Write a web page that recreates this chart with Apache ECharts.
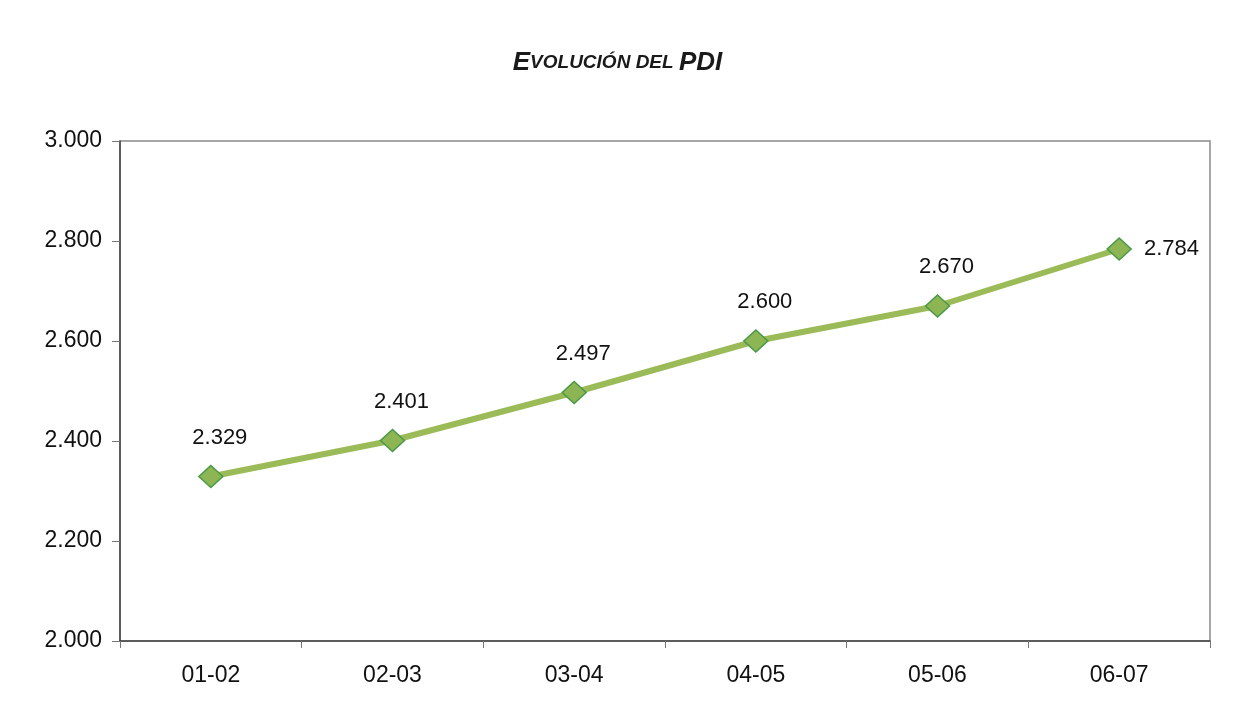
<!DOCTYPE html>
<html>
<head>
<meta charset="utf-8">
<script src="https://cdn.jsdelivr.net/npm/echarts@6/dist/echarts.min.js"></script>
<style>
  html, body { margin: 0; padding: 0; background: #fff; }
  #main { width: 1235px; height: 709px; }
</style>
</head>
<body>
<div id="main"></div>
<script>
const seasons = ['01-02', '02-03', '03-04', '04-05', '05-06', '06-07']
const pdi = [2329, 2401, 2497, 2600, 2670, 2784]
const yTicks = [2000, 2200, 2400, 2600, 2800, 3000]

// spanish style thousands separator
const fmt = v => (v / 1000).toFixed(3)

const chart = echarts.init(document.getElementById('main'))

const points = pdi.map((v, i) => {
  const last = i === pdi.length - 1
  return {
    value: v,
    label: last
      ? { position: 'right', distance: 12 }
      : { position: 'top', distance: 16, offset: [9, 0] }
  }
})

chart.setOption({
  animation: false,
  textStyle: { fontFamily: 'Liberation Sans, Arial, sans-serif' },
  title: {
    text: '{big|E}{small|VOLUCIÓN DEL }{big|PDI}',
    left: 'center',
    top: 45,
    textStyle: {
      rich: {
        big: { fontSize: 26, fontWeight: 'bold', fontStyle: 'italic', color: '#1a1a1a', fontFamily: 'Liberation Sans' },
        small: { fontSize: 19, fontWeight: 'bold', fontStyle: 'italic', color: '#1a1a1a', fontFamily: 'Liberation Sans' }
      }
    }
  },
  grid: {
    left: 120,
    right: 25,
    top: 141,
    bottom: 68,
    show: true,
    borderColor: '#8a8a8a',
    borderWidth: 1.5
  },
  xAxis: {
    type: 'category',
    data: seasons,
    boundaryGap: true,
    axisLine: { lineStyle: { color: '#444', width: 1.5 } },
    axisTick: { show: true, length: 7, lineStyle: { color: '#777' } },
    axisLabel: { fontSize: 23, color: '#111', margin: 23 }
  },
  yAxis: {
    type: 'value',
    min: yTicks[0],
    max: yTicks[yTicks.length - 1],
    interval: 200,
    axisLine: { show: true, lineStyle: { color: '#444', width: 1.5 } },
    axisTick: { show: true, length: 8, lineStyle: { color: '#777' } },
    splitLine: { show: false },
    axisLabel: { fontSize: 23, color: '#111', margin: 18, formatter: fmt }
  },
  series: [
    {
      type: 'line',
      data: points,
      symbol: 'diamond',
      symbolSize: [24, 22],
      lineStyle: { color: '#9bbb59', width: 6 },
      itemStyle: { color: '#8db553', borderColor: '#4a9a48', borderWidth: 1.5 },
      label: {
        show: true,
        fontSize: 22,
        color: '#111',
        formatter: p => fmt(p.value)
      }
    }
  ]
})
</script>
</body>
</html>
